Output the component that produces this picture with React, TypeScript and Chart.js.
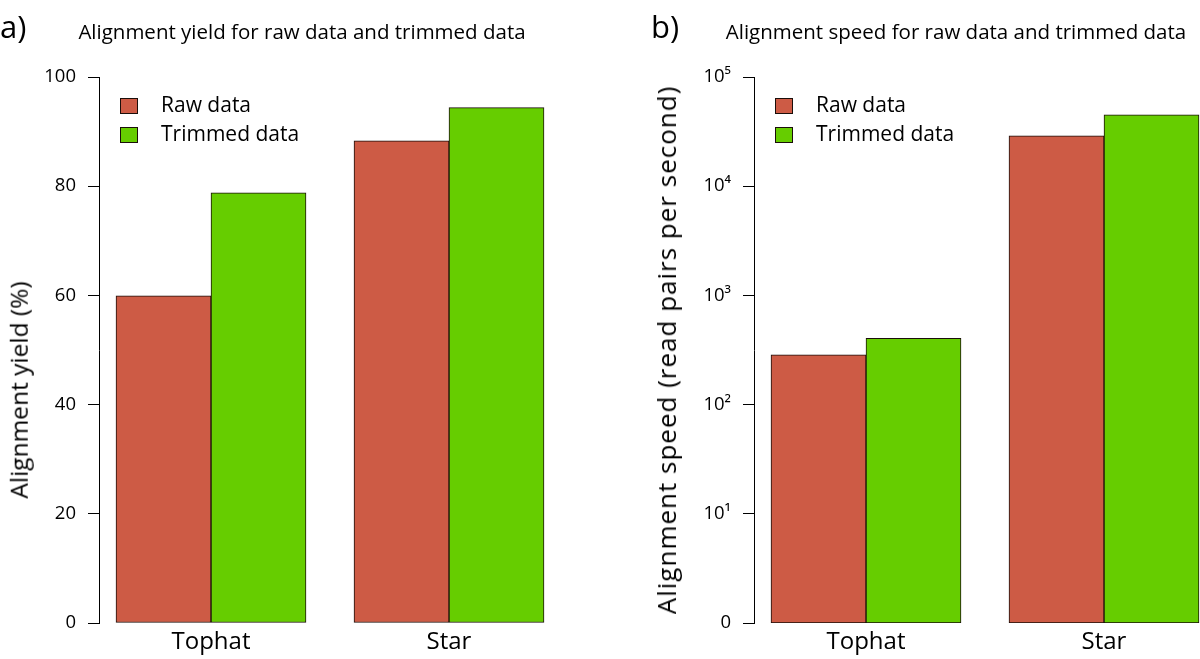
import React, { useEffect, useRef } from "react";
import { Chart, registerables } from "chart.js";

Chart.register(...registerables);

// ---------- data ----------
const categories = ["Tophat", "Star"];
const seriesNames = ["Raw data", "Trimmed data"];

const yieldRaw = [59.9, 88.3];
const yieldTrimmed = [78.8, 94.4];
const yieldTicks = [0, 20, 40, 60, 80, 100];

const speedRaw = [285, 29000];
const speedTrimmed = [405, 45000];
const speedTicks = [1, 10, 100, 1000, 10000, 100000];
const speedTickLabels = ["0", "10\u00b9", "10\u00b2", "10\u00b3", "10\u2074", "10\u2075"];

// ---------- styles ----------
const FONT = "'Open Sans', 'Noto Sans', 'DejaVu Sans', sans-serif";
const RAW_COLOR = "#CD5B45";
const TRIM_COLOR = "#66CD00";
const EDGE = "#1a0e0a";

type PanelProps = {
  left: number;
  values: number[][];
  logScale: boolean;
};

function ChartPanel({ left, values, logScale }: PanelProps) {
  const ref = useRef<HTMLCanvasElement | null>(null);

  useEffect(() => {
    if (!ref.current) return;
    const colors = [RAW_COLOR, TRIM_COLOR];
    const ticksVals = logScale ? speedTicks : yieldTicks;
    const chart = new Chart(ref.current, {
      type: "bar",
      data: {
        datasets: values.map((vals, si) => ({
          label: seriesNames[si],
          data: vals.map((v, i) => ({ x: i, y: v })),
          backgroundColor: colors[si],
          borderColor: EDGE,
          borderWidth: 1,
          borderSkipped: false,
          barThickness: 95,
        })),
      },
      options: {
        responsive: false,
        animation: false,
        layout: { padding: { left: 0, right: 32, top: 77, bottom: 0 } },
        plugins: {
          legend: { display: false },
          tooltip: { enabled: false },
          title: { display: false },
        },
        scales: {
          x: {
            type: "linear",
            min: -112 / 238,
            max: 1.5,
            offset: false,
            afterBuildTicks: (s: any) => {
              s.ticks = categories.map((_, i) => ({ value: i }));
            },
            afterFit: (s: any) => {
              s.height = 36;
            },
            ticks: {
              autoSkip: false,
              maxRotation: 0,
              padding: 5,
              color: "#000",
              font: { family: FONT, size: 24 },
              callback: (v: any) => categories[v] ?? "",
            },
            grid: { display: false, drawTicks: false },
            border: { display: false },
          },
          y: {
            type: logScale ? "logarithmic" : "linear",
            min: logScale ? 1 : 0,
            max: logScale ? 100000 : 100,
            afterBuildTicks: (s: any) => {
              s.ticks = ticksVals.map((v) => ({ value: v }));
            },
            afterFit: (s: any) => {
              s.width = 99;
            },
            ticks: {
              autoSkip: false,
              padding: 12,
              color: "#000",
              font: { family: FONT, size: 18.5 },
              callback: (v: any) => {
                if (logScale) {
                  const idx = speedTicks.indexOf(Number(v));
                  return idx >= 0 ? speedTickLabels[idx] : "";
                }
                return String(v);
              },
            },
            grid: {
              drawOnChartArea: false,
              drawTicks: true,
              tickLength: 11,
              color: "#000",
              lineWidth: 1,
            },
            border: { display: true, color: "#000", width: 1 },
          },
        },
      } as any,
    });
    return () => chart.destroy();
  }, []);

  return (
    <canvas
      ref={ref}
      width={600}
      height={659}
      style={{ position: "absolute", left, top: 0, width: 600, height: 659, display: "block" }}
    />
  );
}

const textBase: React.CSSProperties = {
  position: "absolute",
  fontFamily: FONT,
  color: "#000",
  whiteSpace: "nowrap",
  lineHeight: 1,
};

function Legend({ left }: { left: number }) {
  const colors = [RAW_COLOR, TRIM_COLOR];
  const rowsY = [106, 135];
  return (
    <>
      {seriesNames.map((name, i) => (
        <React.Fragment key={name}>
          <div
            style={{
              position: "absolute",
              left: left + 21,
              top: rowsY[i] - 8,
              width: 16,
              height: 14,
              background: colors[i],
              border: `1px solid ${EDGE}`,
            }}
          />
          <div
            style={{
              ...textBase,
              left: left + 62,
              top: rowsY[i],
              fontSize: 21,
              transform: "translateY(-55%)",
            }}
          >
            {name}
          </div>
        </React.Fragment>
      ))}
    </>
  );
}

export default function App() {
  return (
    <div
      style={{
        position: "absolute",
        left: 0,
        top: 0,
        width: 1200,
        height: 659,
        overflow: "hidden",
        background: "#fff",
      }}
    >
      <ChartPanel left={0} values={[yieldRaw, yieldTrimmed]} logScale={false} />
      <ChartPanel left={655} values={[speedRaw, speedTrimmed]} logScale={true} />

      <div style={{ ...textBase, left: 0, top: 11, fontSize: 31 }}>a)</div>
      <div style={{ ...textBase, left: 651, top: 11, fontSize: 31 }}>b)</div>

      <div style={{ ...textBase, left: 302, top: 31, fontSize: 20.5, transform: "translate(-50%, -50%)" }}>
        Alignment yield for raw data and trimmed data
      </div>
      <div style={{ ...textBase, left: 956, top: 31, fontSize: 20.5, transform: "translate(-50%, -50%)" }}>
        Alignment speed for raw data and trimmed data
      </div>

      <div
        style={{
          ...textBase,
          left: 19,
          top: 390,
          fontSize: 24.5,
          transform: "translate(-50%, -50%) rotate(-90deg)",
        }}
      >
        Alignment yield (%)
      </div>
      <div
        style={{
          ...textBase,
          left: 666,
          top: 350,
          fontSize: 26,
          letterSpacing: "1px",
          transform: "translate(-50%, -50%) rotate(-90deg)",
        }}
      >
        Alignment speed (read pairs per second)
      </div>

      <Legend left={99} />
      <Legend left={754} />
    </div>
  );
}
